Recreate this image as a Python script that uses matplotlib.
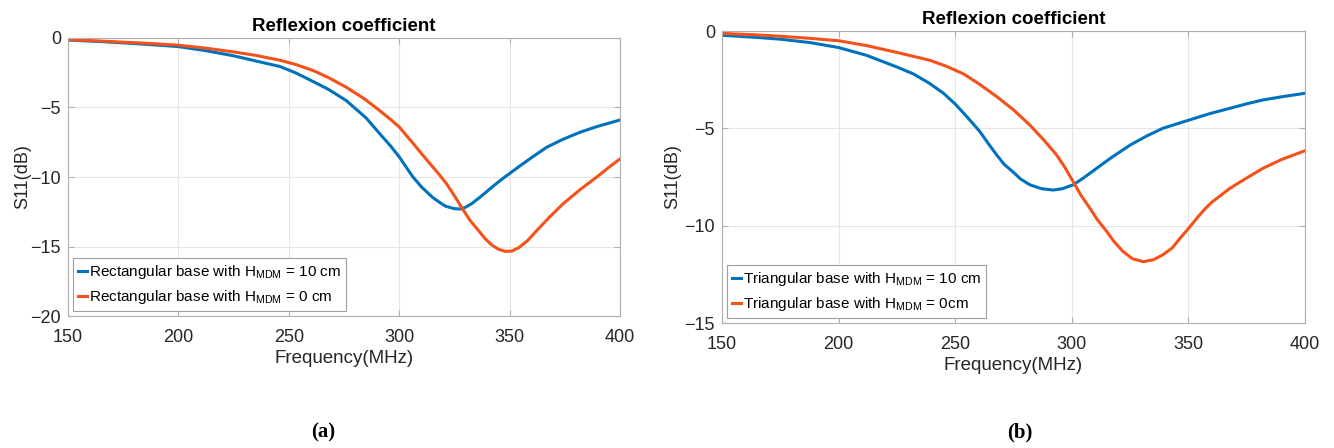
import matplotlib
matplotlib.use("Agg")
import matplotlib.pyplot as plt

plt.rcParams['font.family'] = ['Liberation Sans', 'DejaVu Sans']
plt.rcParams['mathtext.fontset'] = 'custom'
plt.rcParams['mathtext.rm'] = 'Liberation Sans'
plt.rcParams['mathtext.it'] = 'Liberation Sans'

# ---- data (a) rectangular base ----
freq_a_10 = [150, 165, 175, 188, 200, 212, 225, 235, 246, 253, 260, 268, 276, 285, 291, 296, 300,
             303, 306, 310, 315, 318.5, 321, 325, 328, 330, 333, 336.6, 340, 343, 347, 351.7, 356,
             360, 366.8, 374, 381.9, 390, 400]
s11_a_10 = [-0.15, -0.26, -0.35, -0.48, -0.62, -0.9, -1.28, -1.65, -2.05, -2.5, -3.05, -3.7, -4.5,
            -5.75, -6.85, -7.75, -8.55, -9.25, -9.95, -10.7, -11.45, -11.85, -12.1, -12.28, -12.3,
            -12.18, -11.9, -11.45, -11.0, -10.6, -10.1, -9.55, -9.05, -8.6, -7.86, -7.3, -6.78,
            -6.35, -5.9]
freq_a_0 = [150, 165, 175, 188, 200, 212, 225, 235, 246, 253, 261, 268, 276, 284, 291, 296, 300,
            306.4, 310, 314, 318, 321.5, 325, 328.3, 332, 335.9, 339, 342, 345, 348, 351, 354, 358,
            362.3, 368, 374.4, 382, 389.5, 395, 400]
s11_a_0 = [-0.12, -0.22, -0.3, -0.4, -0.52, -0.72, -1.0, -1.25, -1.6, -1.9, -2.34, -2.85, -3.54,
           -4.35, -5.2, -5.85, -6.4, -7.6, -8.3, -9.05, -9.8, -10.5, -11.35, -12.2, -13.1, -13.85,
           -14.45, -14.9, -15.2, -15.35, -15.33, -15.1, -14.6, -13.85, -12.9, -11.9, -10.9, -10.0,
           -9.3, -8.7]

# ---- data (b) triangular base ----
freq_b_10 = [150, 165, 175, 188, 200, 212, 225, 232, 239, 245, 250, 255, 260.6, 264, 267.8, 271,
             274.9, 278, 282, 287, 292, 296, 300.6, 305, 310.7, 317, 325, 332, 339, 350.4, 359,
             367.8, 375, 382, 390, 400]
s11_b_10 = [-0.22, -0.33, -0.42, -0.6, -0.85, -1.25, -1.85, -2.2, -2.69, -3.2, -3.75, -4.4, -5.17,
            -5.75, -6.37, -6.85, -7.25, -7.6, -7.9, -8.1, -8.17, -8.1, -7.9, -7.55, -7.05, -6.5,
            -5.86, -5.4, -5.0, -4.57, -4.25, -3.97, -3.74, -3.54, -3.38, -3.2]
freq_b_0 = [150, 165, 175, 188, 200, 212, 225, 232, 239, 246, 253.5, 260, 267.8, 275, 282, 288,
            293.5, 297, 300.6, 304, 307.8, 311, 315, 318, 322, 326, 330.7, 335, 339, 343, 346.4, 350,
            353.6, 357, 360, 367.8, 375, 382, 390, 400]
s11_b_0 = [-0.12, -0.2, -0.27, -0.38, -0.5, -0.75, -1.1, -1.3, -1.5, -1.8, -2.2, -2.7, -3.37, -4.05,
           -4.83, -5.6, -6.37, -7.0, -7.74, -8.45, -9.11, -9.7, -10.3, -10.8, -11.33, -11.7, -11.85,
           -11.75, -11.5, -11.15, -10.65, -10.15, -9.62, -9.15, -8.8, -8.08, -7.55, -7.05, -6.6,
           -6.15]

xticks = [150, 200, 250, 300, 350, 400]
yticks_a = [0, -5, -10, -15, -20]
yticks_b = [0, -5, -10, -15]

labels_a = [r'Rectangular base with H$_{\mathrm{MDM}}$ = 10 cm',
            r'Rectangular base with H$_{\mathrm{MDM}}$ = 0 cm']
labels_b = [r'Triangular base with H$_{\mathrm{MDM}}$ = 10 cm',
            r'Triangular base with H$_{\mathrm{MDM}}$ = 0cm']

BLUE = '#0072BD'
ORANGE = '#F5511A'

fig = plt.figure(figsize=(13.34, 4.48), dpi=100)
ax1 = fig.add_axes([68/1334, 1-316/448, 552/1334, 278/448])
ax2 = fig.add_axes([722/1334, 1-323/448, 583/1334, 292/448])


def style(ax, yticks, ylim, ylab_x):
    ax.set_xlim(150, 400)
    ax.set_ylim(*ylim)
    ax.set_xticks(xticks)
    ax.set_yticks(yticks)
    ax.grid(True, color='#e6e6e6', linewidth=0.8)
    ax.set_axisbelow(True)
    for s in ax.spines.values():
        s.set_color('#b0b0b0')
        s.set_linewidth(0.8)
    ax.tick_params(direction='in', length=4, color='#b0b0b0', labelsize=13,
                   labelcolor='#262626', top=True, right=True)
    ax.tick_params(axis='x', pad=9)
    ax.tick_params(axis='y', pad=5)
    ax.set_xlabel('Frequency(MHz)', fontsize=13.5, color='#262626', labelpad=3)
    ax.set_ylabel('S11(dB)', fontsize=13, color='#262626')
    ax.yaxis.set_label_coords(ylab_x, 0.5)
    ax.set_title('Reflexion coefficient', fontsize=13.5, fontweight='bold', pad=5)


ax1.plot(freq_a_10, s11_a_10, color=BLUE, lw=2.2, label=labels_a[0])
ax1.plot(freq_a_0, s11_a_0, color=ORANGE, lw=2.2, label=labels_a[1])
style(ax1, yticks_a, (-20, 0), -0.066)

ax2.plot(freq_b_10, s11_b_10, color=BLUE, lw=2.2, label=labels_b[0])
ax2.plot(freq_b_0, s11_b_0, color=ORANGE, lw=2.2, label=labels_b[1])
style(ax2, yticks_b, (-15, 0), -0.07)

for ax in (ax1, ax2):
    leg = ax.legend(loc='lower left', fontsize=11, handlelength=0.6, handletextpad=0.1,
                    borderpad=0.35, labelspacing=0.45, fancybox=False, framealpha=1,
                    borderaxespad=0.3)
    leg.get_frame().set_edgecolor('#a0a0a0')
    leg.get_frame().set_linewidth(0.8)

fig.text(323/1334, 1-432/448, '(a)', fontsize=15, ha='center', va='center',
         family=['Liberation Serif', 'DejaVu Serif'], fontweight='bold')
fig.text(1020/1334, 1-432/448, '(b)', fontsize=15, ha='center', va='center',
         family=['Liberation Serif', 'DejaVu Serif'], fontweight='bold')

fig.savefig('out.png', dpi=100)
